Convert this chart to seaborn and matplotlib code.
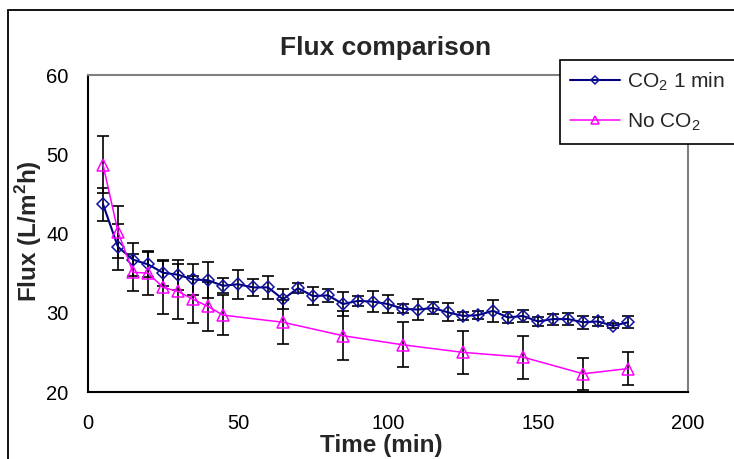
import numpy as np
import pandas as pd
import matplotlib
matplotlib.use("Agg")
import matplotlib.pyplot as plt
from matplotlib.patches import Rectangle
import seaborn as sns

# Permeate flux over time, with and without a 1-minute CO2 pulse
time_co2 = [5, 10, 15, 20, 25, 30, 35, 40, 45, 50, 55, 60, 65, 70, 75, 80, 85, 90,
            95, 100, 105, 110, 115, 120, 125, 130, 135, 140, 145, 150, 155, 160,
            165, 170, 175, 180]
flux_co2 = [43.7, 38.3, 36.7, 36.1, 35.05, 34.8, 34.2, 34.1, 33.4, 33.6, 33.2, 33.2,
            31.7, 33.1, 32.1, 32.2, 31.1, 31.5, 31.4, 31.1, 30.5, 30.4, 30.6, 30.05,
            29.6, 29.7, 30.25, 29.4, 29.6, 28.9, 29.2, 29.2, 28.8, 28.9, 28.35, 28.8]
err_co2 = [2.1, 2.85, 2.1, 1.6, 1.65, 1.9, 2.0, 2.3, 0.95, 1.85, 1.05, 1.5,
           1.25, 0.65, 1.15, 0.85, 1.5, 0.6, 1.35, 1.1, 0.55, 1.35, 0.75, 1.15,
           0.5, 0.5, 1.4, 0.7, 0.8, 0.55, 0.7, 0.75, 0.8, 0.55, 0.3, 0.75]

time_no = [5, 10, 15, 20, 25, 30, 35, 40, 45, 65, 85, 105, 125, 145, 165, 180]
flux_no = [48.7, 40.2, 35.1, 35.0, 33.2, 32.7, 31.7, 30.8, 29.7, 28.8, 27.1, 25.95,
           25.0, 24.4, 22.3, 22.95]
err_no = [3.6, 3.3, 2.35, 2.8, 3.3, 3.5, 3.0, 3.1, 2.5, 2.8, 3.1, 2.85,
          2.7, 2.7, 2.05, 2.05]

x_ticks = [0, 50, 100, 150, 200]
y_ticks = [20, 30, 40, 50, 60]

label_co2 = "CO$_2$ 1 min"
label_no = "No CO$_2$"

sns.set_style("white")
plt.rcParams["font.family"] = ["Liberation Sans", "DejaVu Sans"]
plt.rcParams["mathtext.fontset"] = "custom"
plt.rcParams["mathtext.rm"] = "Liberation Sans"
plt.rcParams["mathtext.bf"] = "Liberation Sans:bold"

W, H = 734, 459
fig = plt.figure(figsize=(W / 100, H / 100), dpi=100)
ax = fig.add_axes([88 / W, 1 - 392 / H, 600 / W, 317 / H])

df_co2 = pd.DataFrame({"time": time_co2, "flux": flux_co2})
df_no = pd.DataFrame({"time": time_no, "flux": flux_no})

navy = "#000080"
magenta = "#FF00FF"

# error bars first, lines and markers on top
ax.errorbar(time_co2, flux_co2, yerr=err_co2, fmt="none", ecolor="black",
            elinewidth=1.2, capsize=4.5, capthick=1.2, zorder=2)
ax.errorbar(time_no, flux_no, yerr=err_no, fmt="none", ecolor="black",
            elinewidth=1.2, capsize=4.5, capthick=1.2, zorder=2)

sns.lineplot(data=df_co2, x="time", y="flux", ax=ax, color=navy, linewidth=1.5,
             marker="D", markersize=6, markerfacecolor="none",
             markeredgecolor="#1010A0", markeredgewidth=1.1,
             label=label_co2, zorder=3)
sns.lineplot(data=df_no, x="time", y="flux", ax=ax, color=magenta, linewidth=1.1,
             marker="^", markersize=8, markerfacecolor="none",
             markeredgecolor=magenta, markeredgewidth=1.1,
             label=label_no, zorder=3)

ax.set_xlim(0, 200)
ax.set_ylim(20, 60)
ax.set_xticks(x_ticks)
ax.set_yticks(y_ticks)
ax.tick_params(axis="both", which="major", direction="out", length=6, width=1.2,
               color="black", labelsize=14.5, labelcolor="black")
ax.tick_params(axis="x", pad=10)
ax.tick_params(axis="y", pad=8)

for side in ("left", "bottom"):
    ax.spines[side].set_color("black")
    ax.spines[side].set_linewidth(1.5)
for side in ("top", "right"):
    ax.spines[side].set_color("#808080")
    ax.spines[side].set_linewidth(1.5)
ax.grid(False)

ax.set_xlabel("Time (min)", fontsize=17.5, fontweight="bold")
ax.set_ylabel(r"Flux (L/m$^\mathbf{2}$h)", fontsize=17.5, fontweight="bold")
ax.xaxis.set_label_coords((381 - 88) / 600, (392 - 434) / 317)
ax.yaxis.set_label_coords((44 - 88) / 600, (392 - 231) / 317)

fig.text(386 / W, 1 - 55 / H, "Flux comparison", ha="center", va="baseline",
         fontsize=19, fontweight="bold")

leg = ax.legend(loc="upper left", bbox_to_anchor=(560 / W, 1 - 60 / H),
                bbox_transform=fig.transFigure, fontsize=15, frameon=True,
                fancybox=False, edgecolor="black", framealpha=1,
                borderaxespad=0, handlelength=2.4, handletextpad=0.3,
                labelspacing=0.9, borderpad=0.5, markerscale=0.75)
leg.get_frame().set_linewidth(1.2)
leg.set_zorder(5)

# outer chart border
fig.patches.append(Rectangle((8 / W, -0.2), 1.2, (H - 10) / H + 0.2,
                             transform=fig.transFigure, fill=False,
                             edgecolor="black", linewidth=1.3))

fig.savefig("out.png", dpi=100)
